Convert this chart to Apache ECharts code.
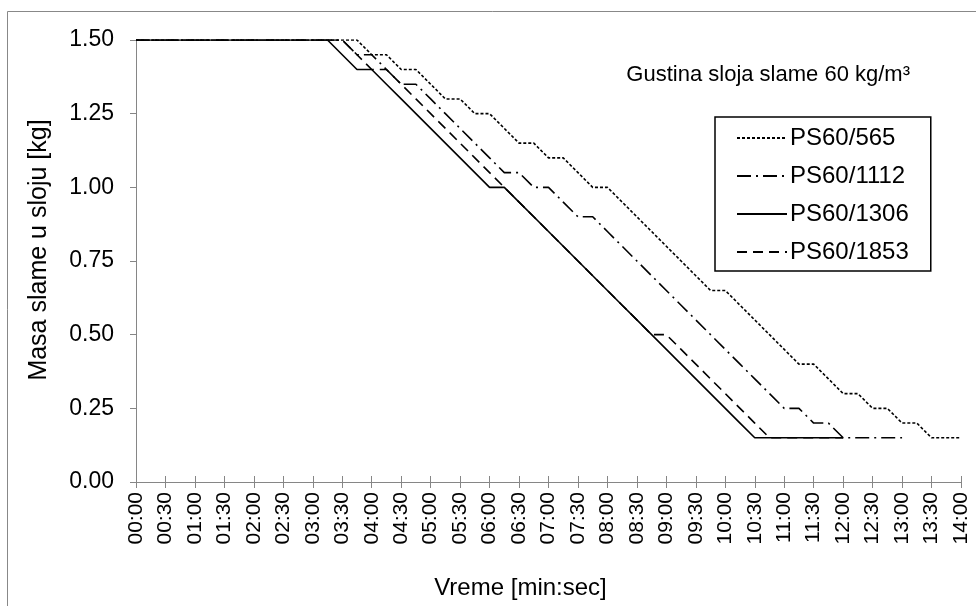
<!DOCTYPE html>
<html>
<head>
<meta charset="utf-8">
<script src="https://cdn.jsdelivr.net/npm/echarts@6/dist/echarts.min.js"></script>
<style>
html,body{margin:0;padding:0;background:#fff;}
#chart{width:976px;height:606px;}
</style>
</head>
<body>
<div id="chart"></div>
<script>
// time in seconds (sampled every 15 s)
const times = [0,15,30,45,60,75,90,105,120,135,150,165,180,195,210,225,240,255,270,285,300,315,330,345,360,375,390,405,420,435,450,465,480,495,510,525,540,555,570,585,600,615,630,645,660,675,690,705,720,735,750,765,780,795,810,825,840];

const tickLabels = ["00:00","00:30","01:00","01:30","02:00","02:30","03:00","03:30","04:00","04:30","05:00","05:30","06:00","06:30","07:00","07:30","08:00","08:30","09:00","09:30","10:00","10:30","11:00","11:30","12:00","12:30","13:00","13:30","14:00"];

const seriesNames = ["PS60/565","PS60/1112","PS60/1306","PS60/1853"];

const ps60_565 = [1.50,1.50,1.50,1.50,1.50,1.50,1.50,1.50,1.50,1.50,1.50,1.50,1.50,1.50,1.50,1.50,
  1.45,1.45,1.40,1.40,1.35,1.30,1.30,1.25,1.25,1.20,1.15,1.15,1.10,1.10,1.05,1.00,1.00,0.95,0.90,0.85,0.80,0.75,0.70,0.65,0.65,0.60,0.55,0.50,0.45,0.40,0.40,0.35,0.30,0.30,0.25,0.25,0.20,0.20,0.15,0.15,0.15];

const ps60_1112 = [1.50,1.50,1.50,1.50,1.50,1.50,1.50,1.50,1.50,1.50,1.50,1.50,1.50,1.50,1.50,
  1.45,1.45,1.40,1.35,1.35,1.30,1.25,1.20,1.15,1.10,1.05,1.05,1.00,1.00,0.95,0.90,0.90,0.85,0.80,0.75,0.70,0.65,0.60,0.55,0.50,0.45,0.40,0.35,0.30,0.25,0.25,0.20,0.20,0.15,
  0.15,0.15,0.15,0.15,null,null,null,null];

const ps60_1306 = [1.50,1.50,1.50,1.50,1.50,1.50,1.50,1.50,1.50,1.50,1.50,1.50,1.50,1.50,
  1.45,1.40,1.40,1.35,1.30,1.25,1.20,1.15,1.10,1.05,1.00,1.00,0.95,0.90,0.85,0.80,0.75,0.70,0.65,0.60,0.55,0.50,0.45,0.40,0.35,0.30,0.25,0.20,0.15,
  0.15,0.15,0.15,0.15,0.15,0.15,null,null,null,null,null,null,null,null];

const ps60_1853 = [1.50,1.50,1.50,1.50,1.50,1.50,1.50,1.50,1.50,1.50,1.50,1.50,1.50,1.50,1.50,
  1.45,1.40,1.40,1.35,1.30,1.25,1.20,1.15,1.10,1.05,1.00,0.95,0.90,0.85,0.80,0.75,0.70,0.65,0.60,0.55,0.50,0.50,0.45,0.40,0.35,0.30,0.25,0.20,0.15,
  0.15,0.15,0.15,0.15,0.15,null,null,null,null,null,null,null,null];

const FONT = '"Liberation Sans", Arial, sans-serif';

function pairs(vals){ return times.map((t,i)=>[t, vals[i]]); }

const styles = {
  "PS60/565":  {type:[3,2], width:1.6},
  "PS60/1112": {type:[14,5,2,5], width:1.6},
  "PS60/1306": {type:'solid', width:1.6},
  "PS60/1853": {type:[10,6], width:1.6}
};
const valuesByName = {
  "PS60/565": ps60_565, "PS60/1112": ps60_1112, "PS60/1306": ps60_1306, "PS60/1853": ps60_1853
};

const chart = echarts.init(document.getElementById('chart'), null, {renderer:'canvas'});
chart.setOption({
  animation:false,
  backgroundColor:'#ffffff',
  textStyle:{fontFamily:FONT, color:'#000'},
  graphic:[{
    type:'rect', silent:true, z:-10,
    shape:{x:7.5, y:11.5, width:1000, height:700},
    style:{fill:'none', stroke:'#888', lineWidth:1}
  }],
  title:{
    text:'Gustina sloja slame 60 kg/m³',
    right:61, top:59,
    textStyle:{fontFamily:FONT, fontSize:22, fontWeight:'normal', color:'#000'}
  },
  legend:{
    data:seriesNames,
    orient:'vertical',
    left:715, top:117,
    padding:[9,22,7,21],
    itemGap:14,
    itemWidth:50, itemHeight:24,
    borderColor:'#000', borderWidth:1.5, borderRadius:0,
    itemStyle:{opacity:0},
    textStyle:{fontFamily:FONT, fontSize:24, color:'#000', padding:[0,0,0,-2]}
  },
  grid:{left:136, right:15, top:40, bottom:124, containLabel:false},
  xAxis:[{
    type:'value', min:0, max:840, interval:30,
    axisLine:{show:true, onZero:false, lineStyle:{color:'#868686', width:1}},
    axisTick:{show:true, inside:false, length:6, lineStyle:{color:'#868686'}},
    splitLine:{show:false},
    axisLabel:{
      rotate:90, margin:10, fontFamily:FONT, fontSize:21, color:'#000',
      formatter:function(v){ return tickLabels[Math.round(v/30)]; }
    },
    name:'Vreme [min:sec]', nameLocation:'middle', nameGap:94,
    nameTextStyle:{fontFamily:FONT, fontSize:24, color:'#000', padding:[0,56,0,0]}
  },{
    type:'value', min:0, max:840, interval:30, position:'bottom',
    axisLine:{show:false},
    axisTick:{show:true, inside:true, length:6, lineStyle:{color:'#868686'}},
    axisLabel:{show:false}, splitLine:{show:false}
  }],
  yAxis:{
    type:'value', min:0, max:1.5, interval:0.25,
    axisLine:{show:true, lineStyle:{color:'#868686', width:1}},
    axisTick:{show:true, inside:false, length:6, lineStyle:{color:'#868686'}},
    splitLine:{show:false},
    axisLabel:{margin:22, fontFamily:FONT, fontSize:23, color:'#000',
      formatter:function(v){ return v.toFixed(2); }},
    name:'Masa slame u sloju [kg]', nameLocation:'middle', nameGap:84, nameRotate:90,
    nameTextStyle:{fontFamily:FONT, fontSize:25, color:'#000', padding:[0,0,0,22]}
  },
  series: seriesNames.map(n=>({
    name:n, type:'line', xAxisIndex:0, data:pairs(valuesByName[n]),
    symbol:'none', showSymbol:false, connectNulls:false,
    lineStyle:{color:'#000', type:styles[n].type, width:styles[n].width},
    itemStyle:{color:'#000'}
  }))
});
</script>
</body>
</html>
